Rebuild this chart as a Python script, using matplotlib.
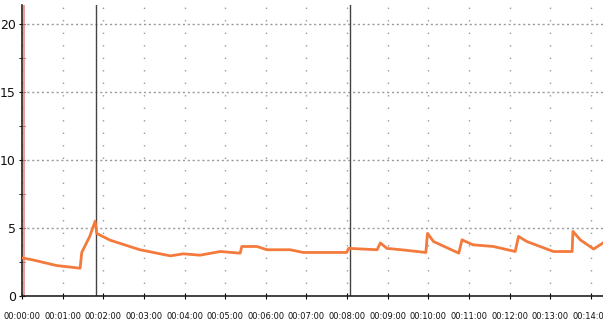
import numpy as np
import matplotlib.pyplot as plt
from matplotlib.ticker import FuncFormatter, MultipleLocator

# elapsed time (minutes) and measured value
t_min = [0.00, 0.27, 0.85, 1.43, 1.47, 1.67, 1.80, 1.84, 2.17, 2.90, 3.65, 3.97,
         4.38, 4.88, 5.37, 5.41, 5.78, 6.03, 6.60, 6.92, 7.99, 8.04, 8.74, 8.82,
         8.98, 9.33, 9.94, 9.98, 10.13, 10.75, 10.83, 11.10, 11.60, 12.14, 12.22,
         12.43, 13.08, 13.54, 13.56, 13.74, 14.07, 14.30]
values = [2.80, 2.65, 2.24, 2.04, 3.20, 4.40, 5.50, 4.60, 4.10, 3.40, 2.95, 3.10,
          3.00, 3.27, 3.15, 3.64, 3.64, 3.40, 3.40, 3.20, 3.20, 3.50, 3.40, 3.90,
          3.50, 3.40, 3.20, 4.60, 4.00, 3.15, 4.13, 3.76, 3.64, 3.27, 4.38,
          4.00, 3.27, 3.27, 4.75, 4.13, 3.45, 3.90]

marker_red = 0.05
markers_gray = [1.82, 8.07]

fig = plt.figure(figsize=(6.03, 3.29), dpi=100)
ax = fig.add_axes([0.0365, 0.1003, 0.9635, 0.885])

ax.plot(t_min, values, color="#f47a3c", linewidth=2.0, zorder=3)

ax.axvline(marker_red, color="#f08a8a", linewidth=1.2, zorder=2)
for m in markers_gray:
    ax.axvline(m, color="#444444", linewidth=1.0, zorder=2)

ax.set_xlim(0, 14.3)
ax.set_ylim(0, 21.4)
ax.xaxis.set_major_locator(MultipleLocator(1))
ax.yaxis.set_major_locator(MultipleLocator(5))
ax.yaxis.set_minor_locator(MultipleLocator(2.5))
ax.xaxis.set_major_formatter(FuncFormatter(lambda v, p: f"00:{int(round(v)):02d}:00"))

ax.grid(axis="x", color="#999999", linestyle=(0, (1, 8)), linewidth=1.0)
ax.grid(axis="y", color="#999999", linestyle=(0, (1.5, 2)), linewidth=1.0)

for s in ["top", "right"]:
    ax.spines[s].set_visible(False)
for s in ["left", "bottom"]:
    ax.spines[s].set_color("#222222")
    ax.spines[s].set_linewidth(1.2)

ax.tick_params(axis="x", direction="inout", length=5, pad=9, labelsize=6)
ax.tick_params(axis="y", direction="inout", length=5, pad=2, labelsize=9)
ax.tick_params(axis="y", which="minor", direction="inout", length=4)
for lbl in ax.get_xticklabels() + ax.get_yticklabels():
    lbl.set_color("#111111")

fig.savefig("out.png", dpi=100)
